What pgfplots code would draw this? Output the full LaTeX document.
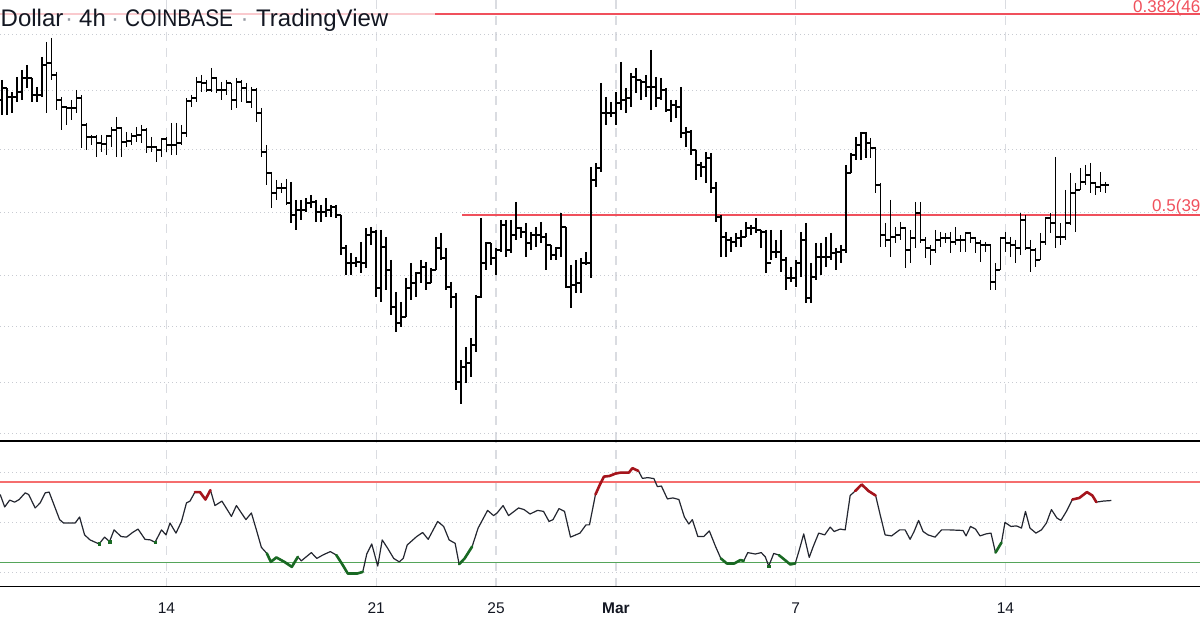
\documentclass[border=0pt]{standalone}
\usepackage{pgfplots}
\usepackage{pgfplotstable}
\usepackage{graphicx}
\pgfplotsset{compat=1.18}
\usepackage{fontspec}
\setmainfont{Liberation Sans}

\definecolor{fibred}{RGB}{240,80,92}
\definecolor{rsired}{RGB}{245,110,110}
\definecolor{rsigreen}{RGB}{85,165,90}
\definecolor{hotred}{RGB}{165,20,28}
\definecolor{coldgreen}{RGB}{25,105,35}
\definecolor{hgrid}{RGB}{200,203,210}
\definecolor{vgrid}{RGB}{218,220,225}
\definecolor{tvtext}{RGB}{19,23,34}
\definecolor{tvdot}{RGB}{150,153,162}
\definecolor{rsiline}{RGB}{35,38,48}

\pgfdeclareplotmark{otick}{\pgfpathmoveto{\pgfqpoint{-\pgfplotmarksize}{0pt}}\pgfpathlineto{\pgfqpoint{0pt}{0pt}}\pgfusepathqstroke}
\pgfdeclareplotmark{ctick}{\pgfpathmoveto{\pgfqpoint{0pt}{0pt}}\pgfpathlineto{\pgfqpoint{\pgfplotmarksize}{0pt}}\pgfusepathqstroke}

% 4h OHLC bars: i = bar index (0 = 14 Feb 00:00), values = vertical position in the price pane
\pgfplotstableread{
i h l o c
-33 80 115 100 88
-32 88 115 88 97
-31 92 113 97 97
-30 77 102 97 92
-29 70 100 92 78
-28 65 88 78 78
-27 78 102 78 95
-26 87 102 95 95
-25 57 97 95 65
-24 42 113 65 63
-23 38 80 63 75
-22 72 110 75 100
-21 97 130 100 107
-20 107 125 107 108
-19 100 120 108 108
-18 90 113 108 98
-17 95 148 98 125
-16 123 150 125 137
-15 135 145 137 137
-14 135 157 137 143
-13 135 152 143 144
-12 135 155 144 136
-11 127 147 136 130
-10 117 157 130 128
-9 128 157 128 142
-8 132 147 142 141
-7 133 145 141 136
-6 127 142 136 135
-5 125 143 135 130
-4 128 153 130 147
-3 137 152 147 147
-2 147 162 147 150
-1 138 157 150 139
0 137 152 139 145
1 123 155 145 145
2 123 155 145 143
3 125 145 143 133
4 98 137 133 101
5 95 107 101 98
6 77 102 98 82
7 75 92 82 83
8 80 92 83 90
9 68 92 90 78
10 77 93 78 90
11 82 100 90 90
12 80 95 90 83
13 83 110 83 100
14 78 108 100 82
15 80 102 82 88
16 83 102 88 102
17 87 108 102 90
18 88 122 90 113
19 108 157 113 152
20 145 185 152 173
21 172 208 173 193
22 180 200 193 188
23 183 193 188 188
24 179 205 188 203
25 182 223 203 215
26 200 230 215 210
27 200 220 210 210
28 198 212 210 203
29 195 208 203 202
30 200 222 202 212
31 205 222 212 212
32 198 217 212 210
33 205 217 210 207
34 205 218 207 215
35 215 255 215 248
36 245 275 248 263
37 253 275 263 263
38 257 267 263 262
39 242 273 262 263
40 228 268 263 235
41 227 245 235 232
42 230 297 232 288
43 230 302 288 247
44 237 290 247 270
45 260 315 270 307
46 292 332 307 323
47 302 327 323 317
48 278 317 317 288
49 263 300 288 283
50 272 297 283 273
51 260 283 273 267
52 262 290 267 283
53 268 283 283 270
54 237 270 270 248
55 233 260 248 258
56 248 290 258 287
57 282 308 287 297
58 293 390 297 382
59 360 404 382 367
60 347 383 367 363
61 338 377 363 345
62 295 352 345 297
63 218 298 297 263
64 242 270 263 243
65 243 265 243 258
66 248 275 258 250
67 220 252 250 225
68 220 257 225 250
69 220 253 250 235
70 202 240 235 228
71 227 238 228 232
72 223 257 232 243
73 232 250 243 235
74 227 247 235 235
75 222 243 235 237
76 233 270 237 245
77 245 260 245 255
78 247 260 255 248
79 213 257 248 227
80 227 288 227 287
81 265 308 287 285
82 260 293 285 283
83 258 293 283 263
84 252 265 263 263
85 167 278 263 180
86 163 187 180 168
87 83 172 168 113
88 97 125 113 113
89 102 117 113 113
90 92 125 113 103
91 62 110 103 100
92 88 113 100 98
93 73 107 98 77
94 68 93 77 80
95 80 100 80 82
96 75 97 82 87
97 50 110 87 87
98 77 107 87 98
99 78 100 98 90
100 88 112 90 110
101 100 122 110 105
102 100 118 105 107
103 87 138 107 133
104 127 147 133 132
105 130 155 132 150
106 150 180 150 165
107 162 177 165 167
108 152 183 167 158
109 153 193 158 188
110 182 222 188 217
111 215 257 217 237
112 232 257 237 240
113 237 252 240 242
114 233 247 242 238
115 230 247 238 237
116 222 237 237 228
117 225 235 228 228
118 218 233 228 230
119 230 248 230 232
120 230 273 232 263
121 230 260 263 252
122 240 258 252 252
123 230 272 252 260
124 257 290 260 278
125 267 282 278 278
126 260 287 278 263
127 232 277 263 240
128 223 303 240 298
129 263 303 298 277
130 243 280 277 257
131 243 275 257 257
132 237 267 257 257
133 233 260 257 253
134 248 270 253 252
135 245 263 252 250
136 165 253 250 173
137 153 173 173 155
138 137 160 155 145
139 132 160 145 133
140 132 158 133 143
141 138 158 143 148
142 147 193 148 185
143 183 247 185 235
144 223 247 235 240
145 200 257 240 237
146 227 243 237 235
147 222 240 235 228
148 227 268 228 250
149 230 263 250 238
150 202 248 238 213
151 202 243 213 240
152 237 258 240 248
153 245 265 248 250
154 230 253 250 240
155 232 247 240 238
156 233 243 238 238
157 232 253 238 242
158 227 245 242 240
159 235 252 240 240
160 232 252 240 233
161 232 243 233 238
162 237 253 238 243
163 240 262 243 245
164 242 252 245 245
165 245 290 245 282
166 263 290 282 270
167 237 270 270 238
168 232 252 238 243
169 237 257 243 245
170 240 263 245 248
171 213 255 248 220
172 215 250 220 248
173 240 272 248 250
174 248 267 250 260
175 233 260 260 242
176 217 245 242 218
177 213 233 218 223
178 157 248 223 237
179 223 245 237 237
180 190 240 237 223
181 173 225 223 193
182 183 232 193 190
183 168 190 190 182
184 165 185 182 175
185 163 193 175 183
186 182 195 183 187
187 172 192 187 185
188 182 193 185 185
}\bars

% oscillator (RSI-like), same bar index
\pgfplotstableread{
x y
-33.3 63.8
-32.4 57.6
-31.4 61.0
-30.4 60.0
-29.5 61.3
-28.3 64.6
-27.6 63.8
-26.3 57.1
-25.3 59.6
-24.3 64.6
-23.5 65.0
-21.4 51.3
-20.6 49.6
-18.3 49.6
-17.4 52.6
-16.4 43.7
-15.3 41.2
-13.5 39.2
-12.4 42.6
-11.4 40.4
-10.5 46.2
-9.1 42.9
-8.0 42.6
-6.8 44.9
-5.7 46.6
-4.3 41.5
-3.2 41.2
-2.3 40.0
-1.0 46.2
-0.1 43.7
0.7 49.6
1.9 44.6
3.0 50.4
4.0 59.6
4.7 60.5
5.7 65.0
6.7 65.0
7.8 61.3
8.8 66.0
9.7 58.3
11.1 60.5
13.0 52.9
14.0 58.3
15.9 51.3
17.0 54.6
18.0 46.2
19.0 37.5
20.1 34.5
20.9 30.3
22.0 32.5
23.6 30.3
25.1 27.8
26.3 32.8
27.0 30.8
29.0 34.9
30.1 32.0
31.3 33.7
32.8 35.4
34.0 33.7
35.1 29.5
36.3 24.5
38.2 24.5
39.3 25.3
40.1 34.2
41.1 39.2
42.3 28.2
43.2 41.2
44.3 37.0
45.5 32.0
46.6 30.3
47.4 32.0
48.2 38.7
50.1 42.9
51.3 44.9
52.4 41.5
54.3 50.4
55.5 47.9
56.6 41.2
57.8 39.5
58.6 29.1
59.7 32.0
61.2 37.9
62.4 47.1
64.3 55.9
65.5 53.3
66.2 54.6
67.4 58.3
68.5 53.3
70.5 57.1
71.6 56.3
72.8 54.1
74.3 55.9
75.5 55.4
76.6 50.4
77.4 51.3
78.6 56.8
79.7 55.4
80.9 42.6
82.8 44.6
84.0 48.7
84.7 48.7
85.9 63.8
86.8 68.8
87.6 72.7
88.7 73.0
89.9 74.2
91.0 74.7
92.6 74.7
93.3 76.9
94.5 75.5
95.3 71.8
96.4 72.2
97.6 71.7
98.3 67.7
99.1 68.0
100.3 61.6
101.4 62.1
102.6 61.3
103.7 52.6
104.6 49.1
105.3 51.3
106.4 42.9
107.6 42.9
108.7 45.7
109.9 38.2
111.0 32.0
112.2 29.5
113.7 29.5
114.9 31.2
115.6 30.8
116.4 34.9
117.9 34.2
119.1 34.9
119.9 32.8
120.6 28.2
121.6 34.5
122.6 33.7
123.7 31.5
124.9 29.0
125.9 29.5
126.8 37.0
127.6 44.2
128.7 32.5
129.5 37.9
130.6 44.6
131.8 43.7
132.9 47.6
133.7 45.4
134.9 46.6
135.9 46.2
136.9 63.3
137.9 65.5
139.2 68.8
140.6 65.5
142.0 63.3
142.9 53.8
143.9 43.7
145.2 43.2
146.8 46.2
147.9 46.2
148.9 41.5
149.7 45.4
150.6 50.9
151.5 45.4
152.5 43.7
153.9 42.6
155.2 46.2
156.8 46.2
159.5 45.9
160.1 43.2
161.0 47.9
162.0 46.6
162.9 43.2
164.1 44.2
165.1 44.6
166.0 34.9
167.2 39.9
167.9 49.9
169.1 47.9
170.2 48.2
171.2 47.1
172.0 55.4
172.9 47.1
174.1 44.6
175.2 46.2
176.2 49.6
177.2 56.3
178.3 52.1
179.1 50.9
180.2 55.4
181.4 61.3
182.8 62.1
184.3 65.0
185.4 63.3
186.2 60.0
187.5 60.5
189.2 60.8
}\osc

\pgfplotsset{
  tvbase/.style={
    scale only axis, width=1200pt,
    xmin=-33.34, xmax=206.95,
    xtick={0,42,66,90,126,168},
    xmajorgrids, ymajorgrids,
    major tick length=0pt,
    axis line style={draw=none},
    x grid style={vgrid, line width=1.4pt, dash pattern=on 9pt off 7pt},
    y grid style={hgrid, line width=0.9pt, dash pattern=on 1pt off 3pt},
    yticklabels={},
  },
  hl/.style={line width=2.6pt, line cap=round, line join=round},
}

\begin{document}
\begin{tikzpicture}
\path[use as bounding box] (0pt,0pt) rectangle (1200pt,628pt);
\clip (0pt,0pt) rectangle (1200pt,628pt);

% ---------------- price pane ----------------
\begin{axis}[tvbase, at={(0pt,187pt)}, anchor=south west, height=441pt,
  ymin=0, ymax=441, y dir=reverse,
  ytick={34,90,149,212,275,326,382,433},
  xticklabels={}]
  \addplot[fibred, line width=2pt, opacity=0.3] coordinates {(-40,14) (53.8,14)};
  \addplot[fibred, line width=2pt] coordinates {(53.8,14) (215,14)};
  \addplot[fibred, line width=2pt] coordinates {(59.2,215.5) (215,215.5)};
  \addplot[draw=none, mark=none,
    error bars/.cd, y dir=plus, y explicit, error mark=none,
    error bar style={draw=black, solid, line width=1.7pt}]
    table[x=i, y=h, y error plus expr=\thisrow{l}-\thisrow{h}] {\bars};
  \addplot[black, only marks, mark=otick, mark size=3.4pt, mark options={line width=1.6pt}]
    table[x=i, y=o] {\bars};
  \addplot[black, only marks, mark=ctick, mark size=3.4pt, mark options={line width=1.6pt}]
    table[x=i, y=c] {\bars};
\end{axis}

% ---------------- oscillator pane ----------------
\begin{axis}[tvbase, at={(0pt,41pt)}, anchor=south west, height=146pt,
  ymin=17.8, ymax=90.4, ytick={25,50,75},
  xticklabels={14,21,25,\textbf{Mar},7,14},
  xticklabel style={anchor=base, yshift=-26.5pt, text=tvtext,
    font=\fontsize{15.5}{18}\selectfont}]
  \addplot[rsired, line width=1.4pt] coordinates {(-40,70) (215,70)};
  \addplot[rsigreen, line width=1.4pt] coordinates {(-40,30) (215,30)};
  \addplot[rsiline, line width=1.2pt, line join=round] table[x=x, y=y] {\osc};
  % highlighted stretches
  \addplot[hotred, hl] coordinates {(5.7,65.0) (6.7,65.0) (7.8,61.3) (8.8,66.0)};
  \addplot[hotred, hl] coordinates {(85.9,63.8) (86.8,68.8) (87.6,72.7) (88.7,73.0) (89.9,74.2) (91.0,74.7) (92.6,74.7) (93.3,76.9) (94.5,75.5)};
  \addplot[hotred, hl] coordinates {(137.9,65.5) (139.2,68.8) (140.6,65.5) (142.0,63.3)};
  \addplot[hotred, hl] coordinates {(181.4,61.3) (182.8,62.1) (184.3,65.0) (185.4,63.3) (186.2,60.0)};
  \addplot[coldgreen, hl] coordinates {(20.1,34.5) (20.9,30.3) (22.0,32.5) (23.6,30.3) (25.1,27.8) (26.3,32.8)};
  \addplot[coldgreen, hl] coordinates {(34.0,33.7) (35.1,29.5) (36.3,24.5) (38.2,24.5) (39.3,25.3)};
  \addplot[coldgreen, hl] coordinates {(58.6,29.1) (59.7,32.0) (61.2,37.9)};
  \addplot[coldgreen, hl] coordinates {(111.0,32.0) (112.2,29.5) (113.7,29.5) (114.9,31.2) (115.6,30.8)};
  \addplot[coldgreen, hl] coordinates {(122.6,33.7) (123.7,31.5) (124.9,29.0) (125.9,29.5)};
  \addplot[coldgreen, hl] coordinates {(166.0,34.9) (167.2,39.9)};
  \addplot[coldgreen, only marks, mark=square*, mark size=1.3pt] coordinates {(-13.5,39.2) (-11.4,40.4) (-2.3,40.0) (120.6,28.2)};
  \draw[black, line width=1.6pt] (rel axis cs:0,1) -- (rel axis cs:1,1);
  \draw[black, line width=1.6pt] (rel axis cs:0,0) -- (rel axis cs:1,0);
\end{axis}

% ---------------- header and level labels ----------------
\begin{scope}[every node/.style={inner sep=0pt, font=\fontsize{24}{28}\selectfont, text=tvtext}]
  \node[anchor=base west] at (0.5pt,601pt) {Dollar};
  \node[anchor=base, text=tvdot] at (69pt,601pt) {·};
  \node[anchor=base west] at (79pt,601pt) {4h};
  \node[anchor=base, text=tvdot] at (115pt,601pt) {·};
  \node[anchor=base west] at (125pt,601pt) {\scalebox{0.87}[1]{COINBASE}};
  \node[anchor=base, text=tvdot] at (244.5pt,601pt) {·};
  \node[anchor=base west] at (256pt,601pt) {TradingView};
\end{scope}
\node[anchor=base west, inner sep=0pt, text=fibred, font=\fontsize{17}{20}\selectfont] at (1133pt,615.5pt) {0.382(46};
\node[anchor=base west, inner sep=0pt, text=fibred, font=\fontsize{17}{20}\selectfont] at (1152pt,416pt) {0.5(39};
\end{tikzpicture}
\end{document}
